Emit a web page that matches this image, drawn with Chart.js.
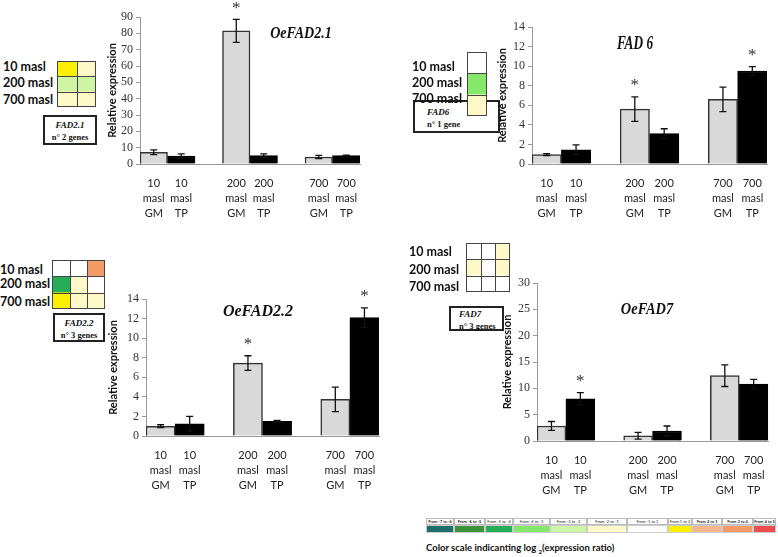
<!DOCTYPE html>
<html>
<head>
<meta charset="utf-8">
<script src="https://cdn.jsdelivr.net/npm/chart.js@4.4.1/dist/chart.umd.min.js"></script>
<style>
  body { margin: 0; background: #fff; width: 778px; height: 557px; position: relative; overflow: hidden; font-family: Lato, sans-serif; }
  canvas { position: absolute; }
  .ttl { position: absolute; font: bold italic 16px "Liberation Serif", serif; color: #111; white-space: nowrap; }
  .hl { position: absolute; text-align: left; font: bold 12.5px Lato, sans-serif; color: #111; line-height: 14px; white-space: nowrap; }
  .box { position: absolute; border: 2px solid #222; box-sizing: border-box; background: #fff; font-family: "Liberation Serif", serif; font-weight: bold; color: #111; line-height: 12px; }
  .box i { display: block; font-size: 9px; }
  .box span { display: block; font-size: 8.5px; }
  #scale { position: absolute; left: 426px; top: 518px; display: flex; }
  #scale div.cell { box-sizing: border-box; }
  #scale .lab { height: 5px; font-size: 4px; line-height: 5px; text-align: center; border: 0.5px solid #bbb; color: #222; white-space: nowrap; overflow: hidden; }
  #scale .col { height: 6px; border: 0.5px solid #ccc; }
  #cap { position: absolute; left: 426px; top: 542px; font: bold 9.5px Lato, sans-serif; color: #111; white-space: nowrap; }
</style>
</head>
<body>
<canvas id="c1" width="270" height="225" style="left:106px;top:0px"></canvas>
<canvas id="c2" width="281" height="225" style="left:496px;top:0px"></canvas>
<canvas id="c3" width="282" height="227" style="left:107px;top:270px"></canvas>
<canvas id="c4" width="276" height="232" style="left:501px;top:270px"></canvas>

<div class="ttl" style="left:301px;top:33px;transform:translate(-50%,-50%) scaleX(0.88)">OeFAD2.1</div>
<div class="ttl" style="left:635px;top:43px;font-size:19px;transform:translate(-50%,-50%) scaleX(0.7)">FAD 6</div>
<div class="ttl" style="left:258px;top:311px;transform:translate(-50%,-50%)">OeFAD2.2</div>
<div class="ttl" style="left:647px;top:309px;transform:translate(-50%,-50%) scaleX(0.9)">OeFAD7</div>

<!-- heatmap blocks -->
<div class="box" style="left:43px;top:115px;width:54px;height:30px;text-align:center;padding-top:2px"><i>FAD2.1</i><span>n° 2 genes</span></div>
<div class="box" style="left:413px;top:100px;width:87px;height:33px;padding-top:4px;padding-left:12px"><i>FAD6</i><span>n° 1 gene</span></div>
<div class="box" style="left:53px;top:313px;width:52px;height:29px;text-align:center;padding-top:2px"><i>FAD2.2</i><span>n° 3 genes</span></div>
<div class="box" style="left:449px;top:306px;width:55px;height:25px;padding-top:0px;padding-left:8px"><i>FAD7</i><span>n° 3 genes</span></div>

<canvas id="h1" width="41" height="48" style="left:56px;top:60px"></canvas>
<canvas id="h2" width="22" height="66" style="left:466px;top:51px"></canvas>
<canvas id="h3" width="55" height="51" style="left:51px;top:259px"></canvas>
<canvas id="h4" width="46" height="51" style="left:465px;top:242px"></canvas>

<div id="labels"></div>
<div id="scale"></div>
<div id="cap">Color scale indicanting log <sub style="font-size:6px">2</sub>(expression ratio)</div>

<script>
// x axis: site x treatment, with an empty slot between sites
const sites = ["10", "200", "700"];
const treatments = ["GM", "TP"];
const yTicksMax = [90, 14, 14, 30];
const yTicksStep = [10, 2, 2, 5];

// OeFAD2.1
const fad21GM = [7.2, 81.5, 4.3];
const fad21GMErr = [1.5, 7.0, 1.0];
const fad21TP = [4.9, 5.1, 5.1];
const fad21TPErr = [1.3, 1.1, 0.3];
const fad21GMSig = [0, 1, 0];
const fad21TPSig = [0, 0, 0];

// FAD 6
const fad6GM = [0.95, 5.6, 6.6];
const fad6GMErr = [0.1, 1.25, 1.25];
const fad6TP = [1.45, 3.1, 9.5];
const fad6TPErr = [0.5, 0.5, 0.45];
const fad6GMSig = [0, 1, 0];
const fad6TPSig = [0, 0, 1];

// OeFAD2.2
const fad22GM = [1.0, 7.45, 3.75];
const fad22GMErr = [0.15, 0.75, 1.25];
const fad22TP = [1.25, 1.5, 12.1];
const fad22TPErr = [0.75, 0.1, 1.0];
const fad22GMSig = [0, 1, 0];
const fad22TPSig = [0, 0, 1];

// OeFAD7
const fad7GM = [2.85, 1.0, 12.4];
const fad7GMErr = [0.85, 0.65, 2.05];
const fad7TP = [8.0, 1.9, 10.8];
const fad7TPErr = [1.2, 0.95, 0.9];
const fad7GMSig = [0, 0, 0];
const fad7TPSig = [1, 0, 0];

// log2 ratio colour scale
const scaleLabels = ["From -7 to -6", "From -6 to -5", "From -5 to -4", "From -4 to -3", "From -3 to -2",
  "From -2 to -1", "From -1 to 1", "From 1 to 2", "From 2 to 3", "From 3 to 4", "From 4 to 5"];
const scaleColors = ["#1d6e6b", "#3d9139", "#25ad57", "#85e86a", "#cdf5a3", "#fff8c8",
  "#ffffff", "#fcf000", "#f6b68c", "#f39a66", "#ee4b4b"];
const scaleBold = [1, 1, 0, 0, 0, 0, 0, 0, 1, 1, 1];

// heatmap rows, one index into the colour scale per gene
const heatRows = ["10 masl", "200 masl", "700 masl"];
const fad21Heat = [[7, 5], [4, 4], [5, 5]];
const fad6Heat = [[6], [3], [5]];
const fad22Heat = [[6, 6, 9], [2, 5, 6], [7, 5, 5]];
const fad7Heat = [[6, 6, 5], [5, 6, 5], [6, 6, 6]];

function slots(vals, offset) {
  const arr = new Array(8).fill(null);
  vals.forEach((v, i) => { arr[i * 3 + offset] = v; });
  return arr;
}

const slotLabels = [];
sites.forEach((s, i) => {
  treatments.forEach(t => slotLabels.push([s, "masl", t]));
  if (i < sites.length - 1) slotLabels.push("");
});

const errorBars = {
  id: "errorBars",
  afterDatasetsDraw(chart) {
    const ctx = chart.ctx;
    const y = chart.scales.y;
    chart.data.datasets.forEach((ds, di) => {
      chart.getDatasetMeta(di).data.forEach((bar, i) => {
        const v = ds.data[i];
        if (v == null) return;
        const e = ds.errors[i];
        const top = y.getPixelForValue(v + e);
        const bot = y.getPixelForValue(Math.max(0, v - e));
        ctx.save();
        ctx.strokeStyle = "#111";
        ctx.lineWidth = 1.3;
        ctx.beginPath();
        ctx.moveTo(bar.x, top); ctx.lineTo(bar.x, bot);
        ctx.moveTo(bar.x - 3.5, top); ctx.lineTo(bar.x + 3.5, top);
        ctx.moveTo(bar.x - 3.5, bot); ctx.lineTo(bar.x + 3.5, bot);
        ctx.stroke();
        if (ds.sig[i]) {
          ctx.fillStyle = "#333";
          ctx.font = '17px "Liberation Serif"';
          ctx.textAlign = "center";
          ctx.textBaseline = "middle";
          ctx.fillText("*", bar.x, top - 11);
        }
        ctx.restore();
      });
    });
  }
};

function barChart(id, k, padTop, padRight, yW, gm, gmErr, gmSig, tp, tpErr, tpSig) {
  new Chart(document.getElementById(id), {
    type: "bar",
    data: {
      labels: slotLabels,
      datasets: [
        { data: slots(gm, 0), errors: slots(gmErr, 0), sig: slots(gmSig, 0),
          backgroundColor: "#d9d9d9", borderColor: "#333", borderWidth: 1.5 },
        { data: slots(tp, 1), errors: slots(tpErr, 1), sig: slots(tpSig, 1),
          backgroundColor: "#000", borderColor: "#000", borderWidth: 1.5 }
      ]
    },
    plugins: [errorBars],
    options: {
      responsive: false,
      animation: false,
      layout: { padding: { top: padTop, right: padRight, left: 0, bottom: 0 } },
      plugins: { legend: { display: false }, tooltip: { enabled: false } },
      datasets: { bar: { grouped: false, categoryPercentage: 1, barPercentage: 1 } },
      scales: {
        x: {
          grid: { display: true, drawOnChartArea: false, drawTicks: false, color: "#999" },
          border: { color: "#999" },
          ticks: { autoSkip: false, maxRotation: 0, padding: 12, color: "#222",
            font: { family: "Lato", size: 11, lineHeight: "15px" } },
          afterFit: s => { s.height = 61; }
        },
        y: {
          min: 0, max: yTicksMax[k],
          ticks: { stepSize: yTicksStep[k], autoSkip: false, padding: 3, color: "#333",
            font: { family: "Liberation Serif", size: 12 } },
          grid: { drawOnChartArea: false, tickLength: 4, color: "#999" },
          border: { color: "#999" },
          title: { display: true, text: "Relative expression", color: "#111", padding: 0,
            font: { family: "Lato", size: 11, weight: "bold" } },
          afterFit: s => { s.width = yW; }
        }
      }
    }
  });
}

barChart("c1", 0, 17, 16, 34, fad21GM, fad21GMErr, fad21GMSig, fad21TP, fad21TPErr, fad21TPSig);
barChart("c2", 1, 27, 10, 36, fad6GM, fad6GMErr, fad6GMSig, fad6TP, fad6TPErr, fad6TPSig);
barChart("c3", 2, 29, 10, 39, fad22GM, fad22GMErr, fad22GMSig, fad22TP, fad22TPErr, fad22TPSig);
barChart("c4", 3, 13, 6, 36, fad7GM, fad7GMErr, fad7GMSig, fad7TP, fad7TPErr, fad7TPSig);

// cell outlines for the heatmaps, placed with the chart's own scales
const cellGrid = {
  id: "cellGrid",
  afterDatasetsDraw(chart) {
    const ctx = chart.ctx, a = chart.chartArea;
    const x = chart.scales.x, y = chart.scales.y;
    const cols = x.max, rows = chart.data.labels.length;
    const snap = (p, hi) => (Math.round(p) >= Math.round(hi) ? Math.round(p) - 1 : Math.round(p)) + 0.5;
    ctx.save();
    ctx.strokeStyle = "#444";
    ctx.lineWidth = 1;
    ctx.beginPath();
    for (let c = 0; c <= cols; c++) {
      const px = snap(x.getPixelForValue(c), a.right);
      ctx.moveTo(px, a.top); ctx.lineTo(px, a.bottom);
    }
    for (let r = 0; r <= rows; r++) {
      const py = snap(y.getPixelForDecimal(r / rows), a.bottom);
      ctx.moveTo(a.left, py); ctx.lineTo(a.right, py);
    }
    ctx.stroke();
    ctx.restore();
  }
};

function heat(id, levels) {
  const cols = levels[0].length;
  new Chart(document.getElementById(id), {
    type: "bar",
    data: {
      labels: heatRows,
      datasets: Array.from({ length: cols }, (_, c) => ({
        data: levels.map(() => 1),
        backgroundColor: levels.map(r => scaleColors[r[c]]),
        borderWidth: 0
      }))
    },
    plugins: [cellGrid],
    options: {
      indexAxis: "y",
      responsive: false,
      animation: false,
      layout: { padding: 1 },
      plugins: { legend: { display: false }, tooltip: { enabled: false } },
      datasets: { bar: { categoryPercentage: 1, barPercentage: 1 } },
      scales: {
        x: { stacked: true, min: 0, max: cols, display: false },
        y: { stacked: true, display: false }
      }
    }
  });
}

heat("h1", fad21Heat);
heat("h2", fad6Heat);
heat("h3", fad22Heat);
heat("h4", fad7Heat);

// row labels beside each heatmap: [left edge, centre y of each row]
const labelPlaces = [[3, [67, 83, 100]], [412, [67, 83, 99]], [0, [270, 284, 302]], [409, [252, 270, 287]]];
const labelsDiv = document.getElementById("labels");
labelPlaces.forEach(([left, ys]) => {
  heatRows.forEach((r, i) => {
    const d = document.createElement("div");
    d.className = "hl";
    d.style.left = left + "px";
    d.style.top = (ys[i] - 7) + "px";
    d.textContent = r;
    labelsDiv.appendChild(d);
  });
});

// colour scale key
const keyWidths = [28, 31, 28, 37, 37, 40, 41, 24, 30, 31, 23];
const scaleDiv = document.getElementById("scale");
scaleLabels.forEach((lab, i) => {
  const c = document.createElement("div");
  c.className = "cell";
  c.style.width = keyWidths[i] + "px";
  c.innerHTML = '<div class="lab" style="font-weight:' + (scaleBold[i] ? "bold" : "normal") + '">' + lab +
    '</div><div class="col" style="background:' + scaleColors[i] + '"></div>';
  scaleDiv.appendChild(c);
});
</script>
</body>
</html>
